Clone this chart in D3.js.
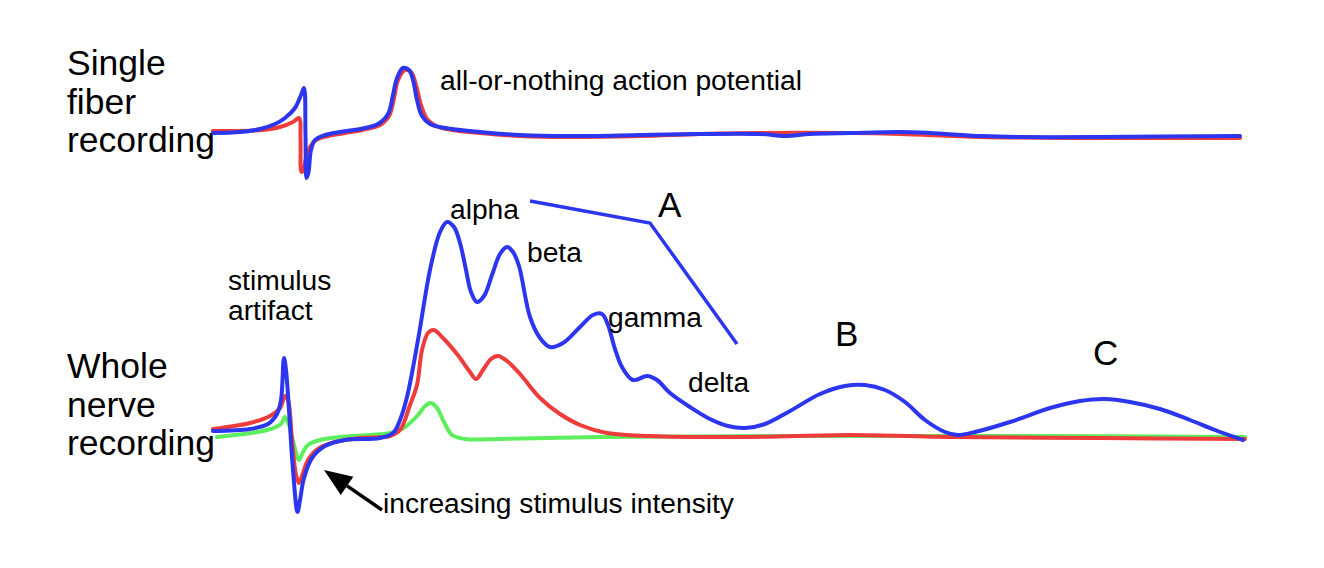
<!DOCTYPE html>
<html>
<head>
<meta charset="utf-8">
<script src="https://cdn.jsdelivr.net/npm/d3@7"></script>
<style>
  body { margin: 0; background: #fff; }
  svg { display: block; font-family: 'Liberation Sans', Arial, Helvetica, sans-serif; }
  .trace { fill: none; stroke-linecap: round; stroke-linejoin: round; }
</style>
</head>
<body>
<script>
// time in ms (x), amplitude in arbitrary units (y)
// single fiber recording, two stimulus strengths
const singleRed = [
  [-0.2, 1.5], [2.5, 1.5], [4.7, 2], [6.5, 3.5], [7.8, 6], [8.4, 8], [8.55, -3], [8.65, -19],
  [8.85, -18], [9.1, -12], [9.5, -6.5], [10.1, -3], [11.3, -1], [13, 0.5], [14.7, 2], [16.5, 4.5],
  [17.4, 9], [17.9, 18], [18.3, 27], [19, 32], [19.6, 31], [20.1, 24.5], [20.6, 14.5], [21.2, 7.5],
  [22.1, 4], [23.7, 2], [26.5, 0.5], [30.5, -1], [35.5, -1.5], [42.5, -1], [48.5, 0], [54.5, 0.5],
  [63.5, 0.5], [68.5, 0], [76.5, -1.5], [88.5, -2], [102.5, -2],
];
const singleBlue = [
  [-0.2, 0.5], [2.5, 1], [4.5, 2.5], [6, 5], [7, 8], [8, 13], [8.6, 19.5], [8.9, 23],
  [9.05, -0.5], [9.15, -22], [9.35, -19], [9.6, -8], [10, -3], [11, -0.5], [12.5, 1], [14.5, 2.5],
  [16.3, 5], [17.3, 10], [17.8, 19.5], [18.2, 28], [18.8, 33], [19.4, 32], [19.8, 27], [20.2, 17],
  [20.7, 9], [21.5, 5], [23, 3], [26.5, 1], [30.5, -0.5], [35.5, -1], [42.5, -0.5], [48.5, 0],
  [54.5, 0], [57, -1], [59.5, 0], [63.5, 0.5], [68.5, 1], [71.5, 0.5], [76.5, -1], [80.5, -1.5],
  [88.5, -1.5], [102.5, -1],
];

// whole nerve recording, low / medium / high stimulus intensity
const wholeGreen = [
  [0.2, 0], [5.2, 3.5], [6.6, 6.5], [7, 10], [7.4, 6], [7.9, -4], [8.4, -11.5], [8.8, -7.5],
  [9.3, -4], [10.5, -1.5], [12.5, 0], [15.5, 1], [17.5, 2], [19, 5], [20.3, 11], [21, 15.5],
  [21.6, 17], [22.2, 14.5], [22.9, 7.5], [23.7, 1], [25, -1], [28.5, -1], [38.5, 0], [58.5, 0.5],
  [78.5, 0.5], [103, 0],
];
const wholeRed = [
  [-0.2, 4], [3.5, 7], [5.5, 10.5], [6.5, 14.5], [7, 20.5], [7.3, 18.5], [7.7, -1.5], [8.1, -19],
  [8.4, -23], [8.7, -19.5], [9.3, -11.5], [10.3, -6], [12, -2.5], [14.5, -0.5], [17.5, 0.5],
  [18.5, 3.5], [19.5, 16], [20.2, 26], [20.7, 43.5], [21.3, 52], [21.9, 53.5], [22.7, 50],
  [24.2, 41.5], [25.5, 32.5], [26.1, 29], [26.8, 33.5], [27.6, 39], [28.3, 40.5], [29.2, 38],
  [30.5, 31.5], [32.5, 19.5], [34.5, 11.5], [36.5, 6], [39.2, 2], [43.5, 0.5], [53.5, 0],
  [63.5, 1], [73.5, 0], [88.5, -0.5], [103, -1],
];
const wholeBlue = [
  [-0.2, 3], [3.5, 4], [5.3, 6.5], [6.2, 11.5], [6.6, 18.5], [6.9, 39.5], [7.1, 33.5], [7.4, 13.5],
  [7.8, -16.5], [8.25, -37.5], [8.5, -31.5], [8.9, -20.5], [9.7, -10.5], [11, -4.5], [13, -1.5],
  [16.5, -0.5], [17.8, 2], [18.5, 8.5], [19.2, 20], [20.3, 48.5], [21.5, 83.5], [22.5, 102.5],
  [23.2, 107.5], [23.9, 105], [24.5, 97], [25.1, 83.5], [25.6, 72.5], [26.2, 67.5], [26.9, 70.5],
  [27.7, 81], [28.5, 91.5], [29.2, 95], [29.8, 92.5], [30.4, 85.5], [31.5, 60], [32.5, 49.5],
  [33.5, 45], [34.8, 47], [36.5, 55], [37.8, 61], [38.7, 61.5], [39.3, 56], [40, 44],
  [40.7, 35], [41.8, 28.5], [43.2, 30.5], [44.2, 28.5], [45.5, 22], [47.5, 15], [49.5, 9],
  [51.3, 5.5], [53, 4.5], [55, 6.5], [57.5, 13], [60.5, 21.5], [63, 25.5], [65, 26], [67, 23.5],
  [69, 17.5], [71, 8.5], [73, 2.5], [74.3, 1], [76, 2.5], [79.5, 7.5], [83.5, 14.5], [86.5, 18],
  [89, 19], [91.5, 17.5], [94.5, 14], [97.5, 8.5], [100, 3.5], [102.8, -1.5],
];

// bracket grouping the A fibre peaks
const bracketA = [[31.5, 118], [43.5, 107], [52.2, 46.5]];

// arrow from the caption towards the artifact (tail, tip)
const intensityArrow = [[16.7, -36.5], [10.9, -16.5]];

// peak labels, placed in whole nerve coordinates
const peakLabels = [
  { text: 'alpha', t: 23.5, v: 109, size: 28.2 },
  { text: 'beta', t: 31.2, v: 87.5, size: 28.2 },
  { text: 'gamma', t: 39.3, v: 55, size: 28.2 },
  { text: 'delta', t: 47.3, v: 22.5, size: 28.2 },
  { text: 'A', t: 44.3, v: 110, size: 35 },
  { text: 'B', t: 62, v: 45.5, size: 35 },
  { text: 'C', t: 87.8, v: 36, size: 35 },
  { text: 'stimulus', t: 1.3, v: 73.5, size: 28.2 },
  { text: 'artifact', t: 1.3, v: 58.5, size: 28.2 },
  { text: 'increasing stimulus intensity', t: 16.8, v: -38, size: 28.2 },
];

const singleTitle = ['Single', 'fiber', 'recording'];
const wholeTitle = ['Whole', 'nerve', 'recording'];

const width = 1324;
const height = 568;
const colors = { red: '#ee3b3b', blue: '#2b36ee', green: '#5cee5c' };

const svg = d3.select('body').append('svg')
  .attr('width', width)
  .attr('height', height);
svg.append('rect').attr('width', width).attr('height', height).attr('fill', '#fff');

// shared time axis, one amplitude scale per panel
const xscale = d3.scaleLinear().domain([0, 103]).range([215, 1245]);
const yTop = d3.scaleLinear().domain([0, 33]).range([134, 68]);
const yBottom = d3.scaleLinear().domain([0, 107.5]).range([437, 222]);

const lineTop = d3.line()
  .x(d => xscale(d[0]))
  .y(d => yTop(d[1]))
  .curve(d3.curveCatmullRom.alpha(0.5));
const lineBottom = d3.line()
  .x(d => xscale(d[0]))
  .y(d => yBottom(d[1]))
  .curve(d3.curveCatmullRom.alpha(0.5));

// panel titles
function drawTitle(lines, x, y0) {
  svg.append('text')
    .attr('x', x)
    .attr('y', y0)
    .attr('font-size', 35.5)
    .attr('fill', '#000')
    .selectAll('tspan')
    .data(lines)
    .join('tspan')
    .attr('x', x)
    .attr('dy', (d, i) => (i === 0 ? 0 : 38.5))
    .text(d => d);
}
drawTitle(singleTitle, 67, 75);
drawTitle(wholeTitle, 67, 378);

// single fiber traces
const gTop = svg.append('g');
[[singleRed, colors.red], [singleBlue, colors.blue]].forEach(([data, c]) => {
  gTop.append('path')
    .datum(data)
    .attr('class', 'trace')
    .attr('stroke', c)
    .attr('stroke-width', 4)
    .attr('d', lineTop);
});
gTop.append('text')
  .attr('x', xscale(22.5))
  .attr('y', yTop(22))
  .attr('font-size', 28.2)
  .text('all-or-nothing action potential');

// whole nerve traces
const gBottom = svg.append('g');
[[wholeGreen, colors.green], [wholeRed, colors.red], [wholeBlue, colors.blue]].forEach(([data, c]) => {
  gBottom.append('path')
    .datum(data)
    .attr('class', 'trace')
    .attr('stroke', c)
    .attr('stroke-width', 4)
    .attr('d', lineBottom);
});

gBottom.append('path')
  .datum(bracketA)
  .attr('fill', 'none')
  .attr('stroke', colors.blue)
  .attr('stroke-width', 3.5)
  .attr('d', d3.line().x(d => xscale(d[0])).y(d => yBottom(d[1])));

gBottom.selectAll('text.lab')
  .data(peakLabels)
  .join('text')
  .attr('class', 'lab')
  .attr('x', d => xscale(d.t))
  .attr('y', d => yBottom(d.v))
  .attr('font-size', d => d.size)
  .text(d => d.text);

// arrow: shaft plus a filled triangular head
const [tail, tip] = intensityArrow.map(d => [xscale(d[0]), yBottom(d[1])]);
const angle = Math.atan2(tip[1] - tail[1], tip[0] - tail[0]);
const headLen = 28;
const headHalf = 11;
const base = [tip[0] - headLen * Math.cos(angle), tip[1] - headLen * Math.sin(angle)];
const nx = -Math.sin(angle);
const ny = Math.cos(angle);

gBottom.append('line')
  .attr('x1', tail[0])
  .attr('y1', tail[1])
  .attr('x2', base[0])
  .attr('y2', base[1])
  .attr('stroke', '#000')
  .attr('stroke-width', 3.5);
gBottom.append('path')
  .attr('d', `M${tip[0]},${tip[1]}L${base[0] + nx * headHalf},${base[1] + ny * headHalf}`
    + `L${base[0] - nx * headHalf},${base[1] - ny * headHalf}Z`)
  .attr('fill', '#000');
</script>
</body>
</html>
